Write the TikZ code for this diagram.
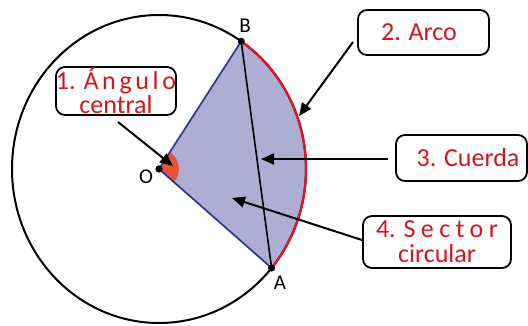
\documentclass[tikz,border=0pt]{standalone}
\usepackage{fontspec}
\setmainfont{Carlito}
\usetikzlibrary{arrows.meta}
\definecolor{lblred}{RGB}{210,22,32}
\definecolor{arcred}{RGB}{228,18,36}
\definecolor{navyline}{RGB}{44,56,140}
\definecolor{sectorfill}{RGB}{174,174,212}
\definecolor{wedgefill}{RGB}{232,82,58}
\tikzset{
  callout/.style={draw=black, line width=1.8pt, rounded corners=9pt, inner sep=0pt,
    text=lblred, align=center, font=\fontsize{26}{25}\selectfont},
  pointer/.style={draw=black, line width=2pt, -{Triangle[length=13pt,width=11pt]}},
  ptlabel/.style={font=\fontsize{21}{22}\selectfont, inner sep=0pt},
  ptdot/.style={fill=black},
}
\begin{document}
\begin{tikzpicture}[x=1pt,y=1pt]
\useasboundingbox (0,0) rectangle (528,325);
\coordinate (O) at (159,156);
\coordinate (B) at (241.2,283.7);
\coordinate (A) at (271.6,57.0);
% sector
\fill[sectorfill] (O) -- (B) arc[start angle=56,end angle=-40,x radius=147,y radius=154] -- cycle;
% central angle
\fill[wedgefill] (O) -- ++(-41.3:20) arc[start angle=-41.3,end angle=57.2,radius=20] -- cycle;
% circle
\draw[line width=2pt] (O) ellipse[x radius=147,y radius=154];
% radii
\draw[navyline, line width=1.7pt] (B) -- (O) -- (A);
% arc
\draw[arcred, line width=2.3pt] (B) arc[start angle=56,end angle=-40,x radius=147,y radius=154];
% chord
\draw[line width=1.6pt] (B) -- (A);
% dots
\fill[ptdot] (O) circle (3.6);
\fill[ptdot] (B) circle (3.6);
\fill[ptdot] (A) circle (3.6);
\node[ptlabel] (lO) at (146,148) {O};
\node[ptlabel] (lB) at (245,299) {B};
\node[ptlabel] (lA) at (280,42) {A};
% callouts
\node[callout, minimum width=120, minimum height=48, font=\fontsize{26}{20}\selectfont] (c1) at (116,234)
  {1. {\addfontfeature{LetterSpace=14}Ángulo}\\central};
\node[callout, minimum width=131, minimum height=45] (c2) at (423.5,292.5) {\hspace*{-9pt}2. Arco};
\node[callout, minimum width=131, minimum height=46] (c3) at (461.5,167) {\hspace*{13pt}3. Cuerda};
\node[callout, minimum width=148, minimum height=52] (c4) at (437,83)
  {4. {\addfontfeature{LetterSpace=21}Sector}\\circular};
% pointers
\coordinate (p1s) at (118,203); \coordinate (p1e) at (173,159);
\coordinate (p2s) at (353,283); \coordinate (p2e) at (299,209);
\coordinate (p3s) at (388,166); \coordinate (p3e) at (261,166);
\coordinate (p4s) at (362,85);  \coordinate (p4e) at (232,127);
\draw[pointer] (p1s) -- (p1e);
\draw[pointer] (p2s) -- (p2e);
\draw[pointer] (p3s) -- (p3e);
\draw[pointer] (p4s) -- (p4e);
\end{tikzpicture}
\end{document}
